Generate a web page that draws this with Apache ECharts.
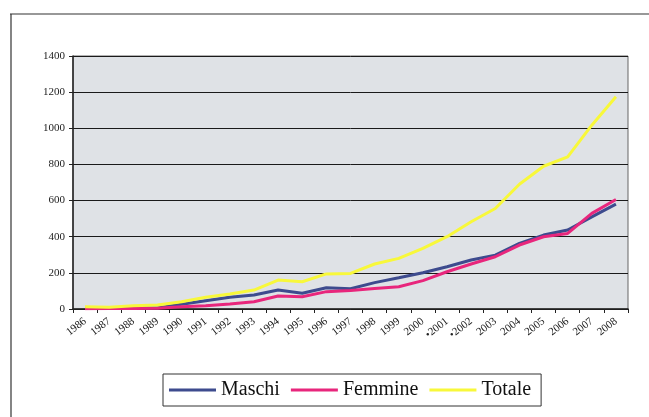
<!DOCTYPE html>
<html>
<head>
<meta charset="utf-8">
<script src="https://cdn.jsdelivr.net/npm/echarts@6/dist/echarts.min.js"></script>
<style>
  html, body { margin: 0; padding: 0; background: #ffffff; }
  #chart { width: 649px; height: 417px; }
</style>
</head>
<body>
<div id="chart"></div>
<script>
// Years on the category axis (2001 and 2002 carry a marker in the labels)
const years = ['1986', '1987', '1988', '1989', '1990', '1991', '1992', '1993', '1994', '1995',
  '1996', '1997', '1998', '1999', '2000', '•2001', '•2002', '2003', '2004', '2005',
  '2006', '2007', '2008'];

const maschi = [3, 4, 5, 6, 26, 46, 65, 77, 105, 87, 118, 112, 146, 173, 201, 234, 271, 298, 363, 409, 437, 510, 580];
const femmine = [2, 3, 3, 4, 13, 18, 28, 40, 72, 68, 96, 102, 114, 123, 157, 206, 249, 289, 354, 400, 418, 529, 606];
const totale = [12, 10, 18, 22, 40, 65, 83, 105, 160, 151, 194, 197, 249, 280, 335, 400, 483, 556, 690, 790, 842, 1017, 1175];

const yTicks = { min: 0, max: 1400, interval: 200 };

const colors = { Maschi: '#3d4b8e', Femmine: '#e8267c', Totale: '#f8f83a' };
const serif = '"Liberation Serif", "DejaVu Serif", serif';
const chart = echarts.init(document.getElementById('chart'), null, { renderer: 'canvas' });

function lineSeries(name, data) {
  return {
    name: name,
    type: 'line',
    data: data,
    symbol: 'none',
    smooth: false,
    lineStyle: { color: colors[name], width: 3 },
    itemStyle: { color: colors[name] },
    z: 3
  };
}

chart.setOption({
  animation: false,
  backgroundColor: '#ffffff',
  graphic: [
    // outer frame of the figure
    { type: 'line', shape: { x1: 10, y1: 14, x2: 649, y2: 14 }, style: { stroke: '#333', lineWidth: 1.2 } },
    { type: 'line', shape: { x1: 11, y1: 14, x2: 11, y2: 417 }, style: { stroke: '#333', lineWidth: 1.2 } }
  ],
  grid: {
    left: 73, right: 21, top: 56, bottom: 108,
    show: true,
    backgroundColor: '#dfe2e6',
    borderColor: '#666',
    borderWidth: 1
  },
  legend: {
    data: Object.keys(colors).map(function (n) {
      return { name: n, icon: 'rect', itemStyle: { color: colors[n] } };
    }),
    left: 163, top: 374,
    padding: [5, 10, 5, 6],
    itemGap: 11,
    itemWidth: 47,
    itemHeight: 3,
    borderColor: '#333',
    borderWidth: 1,
    backgroundColor: '#ffffff',
    textStyle: { fontFamily: serif, fontSize: 20, color: '#111', lineHeight: 22 }
  },
  xAxis: {
    type: 'category',
    data: years,
    boundaryGap: true,
    axisLine: { show: true, lineStyle: { color: '#222', width: 1.5 } },
    axisTick: { show: true, interval: 0, length: 4, lineStyle: { color: '#222' } },
    axisLabel: {
      interval: 0, rotate: 38, fontFamily: serif, fontSize: 11, color: '#222', margin: 11
    },
    splitLine: { show: false }
  },
  yAxis: {
    type: 'value',
    min: yTicks.min, max: yTicks.max, interval: yTicks.interval,
    axisLine: { show: true, lineStyle: { color: '#222', width: 1.5 } },
    axisTick: { show: true, length: 4, lineStyle: { color: '#222' } },
    axisLabel: {
      fontFamily: serif, fontSize: 11, color: '#222', margin: 8,
      formatter: function (v) { return String(v); }
    },
    splitLine: { show: true, lineStyle: { color: '#1a1a1a', width: 1 } }
  },
  series: [
    lineSeries('Maschi', maschi),
    lineSeries('Femmine', femmine),
    lineSeries('Totale', totale)
  ]
});
</script>
</body>
</html>
